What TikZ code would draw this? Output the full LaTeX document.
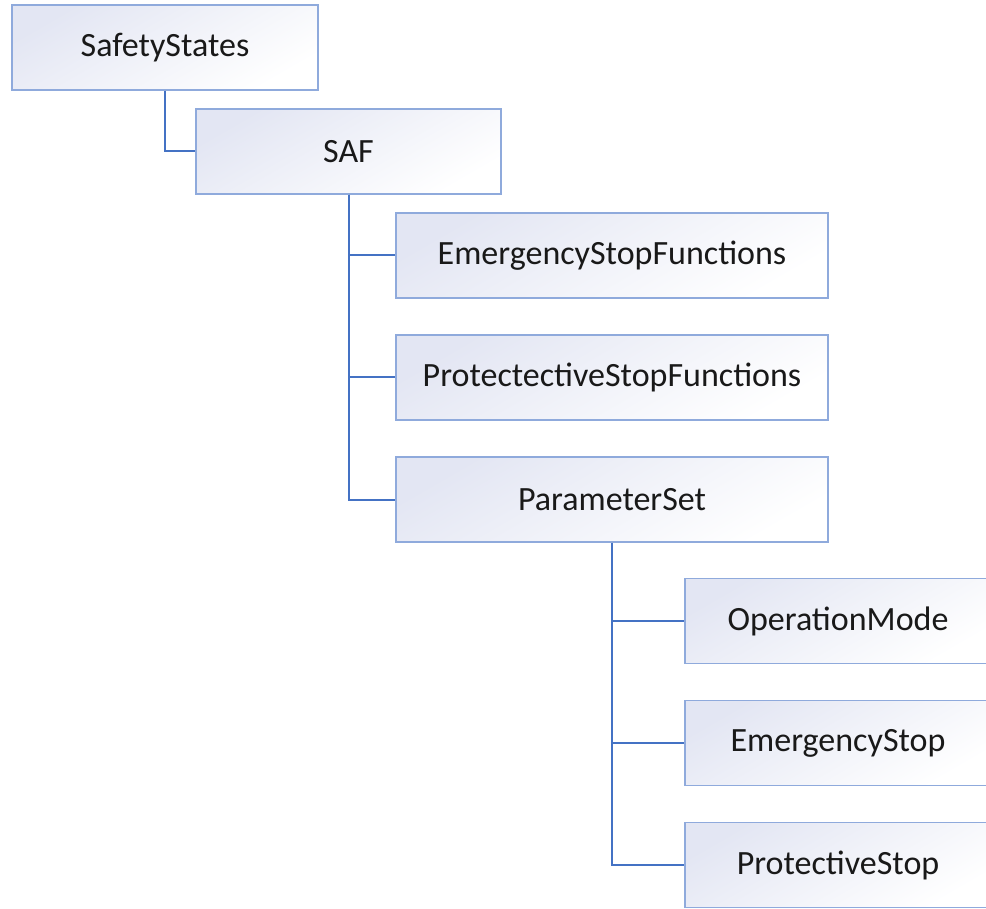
\documentclass[tikz,border=0pt]{standalone}
\usepackage{fontspec}
\setmainfont{Carlito}
\usetikzlibrary{positioning}
\definecolor{boxline}{HTML}{8FAADC}
\definecolor{boxfill}{HTML}{E3E6F3}
\definecolor{treeline}{HTML}{4472C4}
\begin{document}
\begin{tikzpicture}[x=0.5pt, y=-0.5pt, node distance={17.75pt},
    item/.style = {draw=boxline, line width=0.75pt, top color=boxfill, bottom color=white, shading angle=30,
                   minimum width=153pt, minimum height=42.5pt, inner sep=0pt,
                   font=\fontsize{17}{20}\selectfont, text=black!90},
    wide/.style = {item, minimum width=216pt},
    link/.style = {draw=treeline, line width=1pt}]
    \clip (0,0) rectangle (986,909);
    \node[item] (ss) at (165,47.5) {SafetyStates};
    \node[item, minimum width=152.5pt] (saf) at (348.5,151.5) {SAF};
    \node[wide] (esf) at (612,255.5) {EmergencyStopFunctions};
    \node[wide] (psf) [below=of esf] {ProtectectiveStopFunctions};
    \node[wide] (ps) [below=of psf] {ParameterSet};
    \node[item] (om) at (838,621) {OperationMode};
    \node[item] (es) [below=of om] {EmergencyStop};
    \node[item] (prs) [below=of es] {ProtectiveStop};
    %tree
    \draw[link] (ss.south) |- (saf.west);
    \draw[link] (saf.south) |- (esf.west);
    \draw[link] (saf.south) |- (psf.west);
    \draw[link] (saf.south) |- (ps.west);
    \draw[link] (ps.south) |- (om.west);
    \draw[link] (ps.south) |- (es.west);
    \draw[link] (ps.south) |- (prs.west);
\end{tikzpicture}
\end{document}
